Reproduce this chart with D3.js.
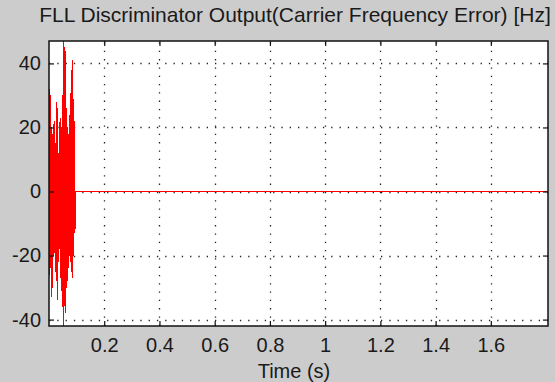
<!DOCTYPE html>
<html>
<head>
<meta charset="utf-8">
<script src="https://cdn.jsdelivr.net/npm/d3@7"></script>
<style>
  html, body { margin: 0; padding: 0; background: #cccccc; }
  svg { display: block; }
  text { font-family: "Liberation Sans", Arial, sans-serif; fill: #1a1a1a; }
</style>
</head>
<body>
<svg id="chart" width="555" height="382"></svg>
<script>
// FLL discriminator samples during pull-in (every 2 ms), then locked at 0 Hz
const sampleTimes = [
  0.000, 0.002, 0.004, 0.006, 0.008, 0.010, 0.012, 0.014, 0.016, 0.018,
  0.020, 0.022, 0.024, 0.026, 0.028, 0.030, 0.032, 0.034, 0.036, 0.038,
  0.040, 0.042, 0.044, 0.046, 0.048, 0.050, 0.052, 0.054, 0.056, 0.058,
  0.060, 0.062, 0.064, 0.066, 0.068, 0.070, 0.072, 0.074, 0.076, 0.078,
  0.080, 0.082, 0.084, 0.086, 0.088, 0.090, 0.092, 0.094, 0.096, 1.807
];
const freqError = [
   34, -26,  30, -24,  20, -33,  18, -30,  21, -20,
   22, -25,  15, -28,  28, -34,  26, -22,  12, -18,
   23, -27,  20, -31,  30, -36,  47, -42,  45, -38,
   44, -30,  26, -28,  20, -24,  18, -20,  24, -22,
   38, -25,  41, -27,  29, -20,  22, -13,   0,   0
];

const xTicks = [0.2, 0.4, 0.6, 0.8, 1.0, 1.2, 1.4, 1.6];
const yTicks = [-40, -20, 0, 20, 40];
const titleText = "FLL Discriminator Output(Carrier Frequency Error) [Hz]";
const xLabelText = "Time (s)";

const svg = d3.select("#chart");
const W = 555, H = 382;
const margin = { left: 49, top: 41, right: 7, bottom: 56 };
const pw = W - margin.left - margin.right;
const ph = H - margin.top - margin.bottom;

const x = d3.scaleLinear().domain([0, 1.807]).range([0, pw]);
const y = d3.scaleLinear().domain(d3.extent(freqError)).range([ph, 0]);

svg.append("rect").attr("width", W).attr("height", H).attr("fill", "#cccccc");

const g = svg.append("g").attr("transform", `translate(${margin.left},${margin.top})`);

g.append("rect").attr("width", pw).attr("height", ph).attr("fill", "#ffffff");

// dotted grid
const grid = g.append("g").attr("stroke", "#222").attr("stroke-width", 1.3)
  .attr("stroke-dasharray", "1.3,7").attr("fill", "none");
xTicks.forEach(t => {
  grid.append("line").attr("x1", Math.round(x(t)) + 0.5).attr("x2", Math.round(x(t)) + 0.5)
    .attr("y1", ph).attr("y2", 0);
});
yTicks.forEach(t => {
  grid.append("line").attr("x1", 0).attr("x2", pw)
    .attr("y1", Math.round(y(t)) + 0.5).attr("y2", Math.round(y(t)) + 0.5);
});

// signal trace
const clipId = "plotclip";
g.append("clipPath").attr("id", clipId).append("rect").attr("width", pw).attr("height", ph);
const line = d3.line().x((d, i) => x(sampleTimes[i])).y(d => y(d));
g.append("path").datum(freqError)
  .attr("clip-path", `url(#${clipId})`)
  .attr("fill", "none").attr("stroke", "#ff0000").attr("stroke-width", 1)
  .attr("shape-rendering", "crispEdges")
  .attr("d", line);

// axes: bottom/left with labels, top/right mirrored inward ticks
const tickLen = 5;
const fmt = d => String(+d.toFixed(1));
const xAxis = d3.axisBottom(x).tickValues(xTicks).tickSize(-tickLen).tickPadding(12).tickFormat(fmt);
const xAxisTop = d3.axisTop(x).tickValues(xTicks).tickSize(-tickLen).tickFormat("");
const yAxis = d3.axisLeft(y).tickValues(yTicks).tickSize(-tickLen).tickPadding(8).tickFormat(d => String(d));
const yAxisRight = d3.axisRight(y).tickValues(yTicks).tickSize(-tickLen).tickFormat("");

function style(sel) {
  sel.select(".domain").remove();
  sel.selectAll("line").attr("stroke", "#111").attr("stroke-width", 1.2);
  sel.selectAll("text").attr("font-size", 20).attr("fill", "#1a1a1a")
    .style("font-family", "'Liberation Sans', Arial, sans-serif");
}
g.append("g").attr("transform", `translate(0,${ph})`).call(xAxis).call(style);
g.append("g").call(xAxisTop).call(style);
g.append("g").call(yAxis).call(style);
g.append("g").attr("transform", `translate(${pw},0)`).call(yAxisRight).call(style);

// frame
g.append("rect").attr("x", 0).attr("y", 0).attr("width", pw).attr("height", ph)
  .attr("fill", "none").attr("stroke", "#111").attr("stroke-width", 1.5);

// title and axis label
svg.append("text").attr("x", 295).attr("y", 22).attr("text-anchor", "middle")
  .attr("font-size", 21).text(titleText);
svg.append("text").attr("x", 294).attr("y", 378).attr("text-anchor", "middle")
  .attr("font-size", 20).text(xLabelText);
</script>
</body>
</html>
